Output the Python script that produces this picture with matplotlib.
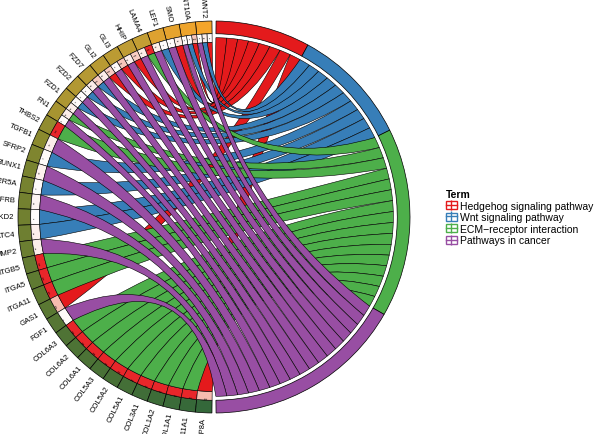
import numpy as np
import matplotlib.pyplot as plt
from matplotlib.path import Path
from matplotlib.patches import PathPatch, Wedge, Patch
from matplotlib.lines import Line2D
from matplotlib.colors import LinearSegmentedColormap
from matplotlib.legend_handler import HandlerTuple

plt.rcParams['font.family'] = ['Liberation Sans', 'DejaVu Sans']

# genes, top of the circle going down the left side
genes = ['WNT2', 'WNT10A', 'SMO', 'LEF1', 'LAMA4', 'HHIP', 'GLI3', 'GLI2', 'FZD7', 'FZD2',
         'FZD1', 'FN1', 'THBS2', 'TGFB1', 'SFRP2', 'RUNX1', 'PPP2R5A', 'PDGFRB', 'NKD2',
         'NFATC4', 'MMP2', 'ITGB5', 'ITGA5', 'ITGA11', 'GAS1', 'FGF1', 'COL6A3', 'COL6A2',
         'COL6A1', 'COL5A3', 'COL5A2', 'COL5A1', 'COL3A1', 'COL1A2', 'COL1A1', 'COL11A1', 'BMP8A']
logfc = [4.2, 4.0, 3.8, 3.6, 3.0, 2.95, 2.9, 2.85, 2.8, 2.75,
         2.7, 2.6, 2.3, 2.2, 2.0, 1.9, 1.85, 1.8, 1.75,
         1.7, 1.65, 1.5, 1.45, 1.4, 1.3, 1.2, 1.0, 0.95,
         0.9, 0.85, 0.8, 0.7, 0.6, 0.5, 0.45, 0.35, 0.25]

terms = ['Hedgehog signaling pathway', 'Wnt signaling pathway',
         'ECM\u2212receptor interaction', 'Pathways in cancer']
term_colors = ['#E41A1C', '#377EB8', '#4DAF4A', '#984EA3']

# gene -> term links, with -log10(p) for the small cells
link_gene = ['WNT2', 'WNT2', 'WNT2', 'WNT10A', 'WNT10A', 'WNT10A', 'SMO', 'SMO',
             'LEF1', 'LEF1', 'LAMA4', 'LAMA4', 'HHIP', 'HHIP', 'GLI3', 'GLI3', 'GLI2', 'GLI2',
             'FZD7', 'FZD7', 'FZD2', 'FZD2', 'FZD1', 'FZD1', 'FN1', 'FN1', 'THBS2', 'TGFB1',
             'SFRP2', 'RUNX1', 'PPP2R5A', 'PDGFRB', 'NKD2', 'NFATC4', 'MMP2', 'ITGB5', 'ITGA5',
             'ITGA11', 'GAS1', 'FGF1', 'COL6A3', 'COL6A2', 'COL6A1', 'COL5A3', 'COL5A2',
             'COL5A1', 'COL3A1', 'COL1A2', 'COL1A1', 'COL11A1', 'BMP8A']
link_term = [0, 1, 3, 0, 1, 3, 0, 3,
             1, 3, 2, 3, 0, 3, 0, 3, 0, 3,
             1, 3, 1, 3, 1, 3, 2, 3, 2, 3,
             1, 3, 1, 3, 1, 1, 3, 2, 2,
             2, 0, 3, 2, 2, 2, 2, 2,
             2, 2, 2, 2, 2, 0]
link_sig = [1.5, 2.3, 1.4, 4.2, 1.6, 1.5, 2.6, 1.5,
            1.5, 2.4, 8.0, 2.5, 4.0, 2.4, 4.2, 1.6, 4.0, 2.4,
            4.0, 2.5, 1.6, 1.5, 1.6, 2.4, 2.4, 1.5, 8.0, 2.4,
            1.6, 2.2, 1.6, 2.0, 1.5, 2.3, 2.4, 8.0, 8.0,
            8.0, 4.5, 1.6, 8.0, 8.0, 8.0, 8.0, 8.0,
            8.0, 8.0, 8.0, 8.0, 8.0, 4.5]

fc_cmap = LinearSegmentedColormap.from_list(
    'fc', [(0, '#34683A'), (0.3, '#5F7A32'), (0.5, '#8C8A2E'), (0.72, '#C9A035'), (1, '#F5A52A')])
sig_cmap = LinearSegmentedColormap.from_list('sig', ['#FFFFFF', '#F9DCD4', '#F2907E', '#E8262A'])

fig = plt.figure(figsize=(6, 4.35), dpi=100)
ax = fig.add_axes([0, 0, 1, 1])
ax.set_xlim(0, 600)
ax.set_ylim(0, 435)
ax.axis('off')

cx, cy, R = 214, 217, 196
gap = 0.6
r_out, r_mid, r_cell, r_term = 1.0, 0.935, 0.89, 0.915
bend = 0.3


def xy(r, a):
    t = np.deg2rad(a)
    return cx + r * R * np.cos(t), cy + r * R * np.sin(t)


def arc(r, a1, a2, n=30):
    t = np.linspace(a1, a2, n)
    return list(zip(*xy(r, t)))


def ctrl(p, q):
    # control point pulled toward the centre from the chord midpoint
    mx, my = (p[0] + q[0]) / 2 - cx, (p[1] + q[1]) / 2 - cy
    return cx + bend * mx, cy + bend * my


# gene side, equal width per gene
ng = len(genes)
gw = (180 - 2 * gap) / ng
g_start = {g: 90 + gap + i * gw for i, g in enumerate(genes)}
fmin, fmax = min(logfc), max(logfc)
for g, v in zip(genes, logfc):
    a0 = g_start[g]
    ax.add_patch(Wedge((cx, cy), R * r_out, a0, a0 + gw, width=R * (r_out - r_mid),
                       facecolor=fc_cmap((v - fmin) / (fmax - fmin)), edgecolor='black', lw=0.5))
    lx, ly = xy(1.02, a0 + gw / 2)
    ax.text(lx, ly, g, fontsize=5.5, rotation=a0 + gw / 2 - 180, rotation_mode='anchor',
            ha='right', va='center')

# split each gene into its links (lowest term index nearest the top)
link_gang = []
for i, (g, t) in enumerate(zip(link_gene, link_term)):
    own = [k for k in range(len(link_gene)) if link_gene[k] == g]
    own.sort(key=lambda k: link_term[k])
    pos = own.index(i)
    w = gw / len(own)
    link_gang.append((g_start[g] + pos * w, g_start[g] + (pos + 1) * w))

# term side, equal width per link
nl = len(link_gene)
lw_t = (180 - 2 * gap) / nl
link_tang = [None] * nl
a = 90 - gap
for ti in range(len(terms)):
    idx = [k for k in range(nl) if link_term[k] == ti]
    idx.sort(key=lambda k: genes.index(link_gene[k]))
    t0 = a
    for k in idx:
        link_tang[k] = (a - lw_t, a)
        a -= lw_t
    ax.add_patch(Wedge((cx, cy), R * r_out, a, t0, width=R * (r_out - r_mid),
                       facecolor=term_colors[ti], edgecolor='black', lw=0.5))

# small significance cells
for k in range(nl):
    g1, g2 = link_gang[k]
    s = link_sig[k]
    ax.add_patch(Wedge((cx, cy), R * r_mid, g1, g2, width=R * (r_mid - r_cell),
                       facecolor=sig_cmap(min((s - 1.3) / 6.7, 1)), edgecolor='black', lw=0.4))
    stars = '***' if s >= 3 else ('**' if s >= 2 else '*')
    sx, sy = xy((r_mid + r_cell) / 2, (g1 + g2) / 2)
    ax.text(sx, sy, stars, fontsize=2.5, ha='center', va='center',
            rotation=(g1 + g2) / 2 - 180 + 90)

# chords
for ti in range(len(terms)):
    for k in range(nl):
        if link_term[k] != ti:
            continue
        g1, g2 = link_gang[k]
        t1, t2 = link_tang[k]
        pg1, pg2 = xy(r_cell, g1), xy(r_cell, g2)
        pt1, pt2 = xy(r_term, t1), xy(r_term, t2)
        verts = arc(r_cell, g1, g2)
        codes = [Path.MOVETO] + [Path.LINETO] * (len(verts) - 1)
        verts += [ctrl(pg2, pt1), pt1]
        codes += [Path.CURVE3, Path.CURVE3]
        ta = arc(r_term, t1 + 360, t2 + 360)[1:]
        verts += ta
        codes += [Path.LINETO] * len(ta)
        verts += [ctrl(pt2, pg1), pg1]
        codes += [Path.CURVE3, Path.CURVE3]
        ax.add_patch(PathPatch(Path(verts, codes), facecolor=term_colors[ti],
                               edgecolor='black', lw=0.4))

handles = [(Patch(facecolor='white', edgecolor=c, lw=1),
            Line2D([], [], color=c, lw=1, marker='|', markersize=7, mew=1))
           for c in term_colors]
leg = fig.legend(handles, terms, loc='upper left', bbox_to_anchor=(0.735, 0.575),
                 handler_map={tuple: HandlerTuple(ndivide=1, pad=0)}, frameon=False,
                 fontsize=7.5, title='Term', title_fontproperties={'weight': 'bold', 'size': 7.5},
                 alignment='left', handlelength=1.0, handleheight=0.8, handletextpad=0.3,
                 labelspacing=0.15, borderpad=0)

fig.savefig('out.png', dpi=100)
